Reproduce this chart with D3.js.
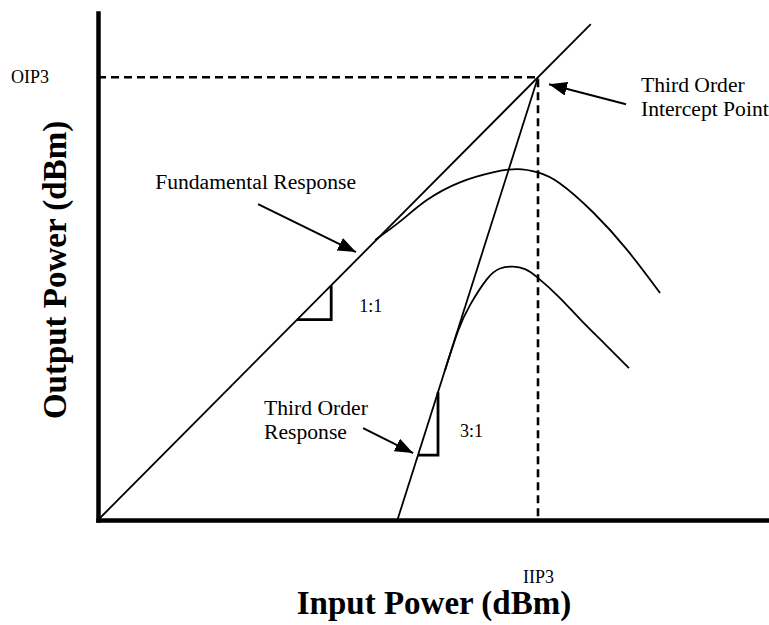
<!DOCTYPE html>
<html>
<head>
<meta charset="utf-8">
<script src="https://cdn.jsdelivr.net/npm/d3@7"></script>
<style>
  body { margin: 0; background: #fff; }
  svg { display: block; font-family: "Liberation Serif", "Times New Roman", serif; }
</style>
</head>
<body>
<svg id="chart"></svg>
<script>
let w = 769;
let h = 625;

// power levels in dBm (the scale is arbitrary)
const iip3 = 0;
const oip3 = 10;
const inputDomain = [-40, 21];
const outputDomain = [-30, 15.8];

// ideal (small signal) lines: [input, output]
const fundLine = [[-40, -30], [4.8, 14.8]];
const thirdLine = [[-12.78, -30], [0, 10]];

// real responses that compress and fall off
const fundCurveIn = [-14.8, -12.5, -10.1, -7.1, -4.1, -1.9, 0, 2, 5, 8.1, 11.1];
const fundCurveOut = [-4.7, -3.0, -1.1, 0.5, 1.4, 1.7, 1.4, 0.4, -2.2, -5.6, -9.5];
const thirdCurveIn = [-8.45, -7.27, -6.18, -4.64, -3.45, -2.27, -1.18, -0.09, 1.82, 3.82, 6.09, 8.27];
const thirdCurveOut = [-16.46, -12.93, -10.59, -8.24, -7.28, -7.11, -7.34, -8.06, -9.77, -11.85, -14.11, -16.28];

// slope triangles drawn on the ideal lines
const slopeLabels = ['1:1', '3:1'];
const slopeFrom = [-21.9, -10.91];
const slopeTo = [-18.8, -9.09];

// annotation text and arrows, in the same dBm units
const notes = [
  { lines: ['Fundamental Response'], at: [-34.8, -0.1], arrow: [[-25.45, -1.47], [-16.55, -5.8]] },
  { lines: ['Third Order', 'Intercept Point'], at: [9.36, 8.65], arrow: [[8.0, 7.56], [1.0, 9.37]] },
  { lines: ['Third Order', 'Response'], at: [-24.9, -20.5], arrow: [[-15.9, -21.7], [-11.36, -23.95]] }
];

function initGraph() {
  let svg = d3.select('#chart')
    .attr('width', w)
    .attr('height', h);

  let xScale = d3.scaleLinear().domain(inputDomain).range([98, 769]);
  let yScale = d3.scaleLinear().domain(outputDomain).range([520, 13]);

  // arrow head
  svg.append('defs').append('marker')
    .attr('id', 'head')
    .attr('markerUnits', 'userSpaceOnUse')
    .attr('viewBox', '0 0 18 14')
    .attr('refX', 18)
    .attr('refY', 7)
    .attr('markerWidth', 18)
    .attr('markerHeight', 14)
    .attr('orient', 'auto')
    .append('path')
    .attr('d', 'M0,0 L18,7 L0,14 Z')
    .attr('fill', '#000');

  let line = d3.line()
    .x(d => xScale(d[0]))
    .y(d => yScale(d[1]));

  let smooth = d3.line()
    .x(d => xScale(d[0]))
    .y(d => yScale(d[1]))
    .curve(d3.curveNatural);

  // dashed guides to the intercept point
  svg.append('path')
    .attr('d', line([[inputDomain[0], oip3], [iip3, oip3], [iip3, outputDomain[0]]]))
    .attr('fill', 'none')
    .attr('stroke', '#000')
    .attr('stroke-width', 2.6)
    .attr('stroke-dasharray', '8,5');

  // ideal lines
  svg.selectAll('path.ideal')
    .data([fundLine, thirdLine])
    .enter()
    .append('path')
    .attr('class', 'ideal')
    .attr('d', line)
    .attr('fill', 'none')
    .attr('stroke', '#000')
    .attr('stroke-width', 1.8);

  // compressed curves
  let fundCurve = fundCurveIn.map((x, i) => [x, fundCurveOut[i]]);
  let thirdCurve = thirdCurveIn.map((x, i) => [x, thirdCurveOut[i]]);
  svg.selectAll('path.curve')
    .data([fundCurve, thirdCurve])
    .enter()
    .append('path')
    .attr('class', 'curve')
    .attr('d', smooth)
    .attr('fill', 'none')
    .attr('stroke', '#000')
    .attr('stroke-width', 1.8);

  // slope triangles
  let ideal = [fundLine, thirdLine].map(l =>
    d3.scaleLinear().domain([l[0][0], l[1][0]]).range([l[0][1], l[1][1]]));
  let labelGap = [28, 22];
  slopeLabels.forEach((label, i) => {
    let f = ideal[i];
    let a = slopeFrom[i], b = slopeTo[i];
    svg.append('path')
      .attr('d', line([[a, f(a)], [b, f(a)], [b, f(b)]]))
      .attr('fill', 'none')
      .attr('stroke', '#000')
      .attr('stroke-width', 2.8);
    svg.append('text')
      .attr('x', xScale(b) + labelGap[i])
      .attr('y', (yScale(f(a)) + yScale(f(b))) / 2 + (i ? 13 : 10))
      .attr('font-size', 18)
      .text(label);
  });

  // annotations
  notes.forEach(n => {
    let t = svg.append('text')
      .attr('x', xScale(n.at[0]))
      .attr('y', yScale(n.at[1]))
      .attr('font-size', 21.6);
    n.lines.forEach((s, i) => {
      t.append('tspan')
        .attr('x', xScale(n.at[0]))
        .attr('dy', i ? 24 : 0)
        .text(s);
    });
    svg.append('path')
      .attr('d', line(n.arrow))
      .attr('stroke', '#000')
      .attr('stroke-width', 2)
      .attr('marker-end', 'url(#head)');
  });

  // axes, only the intercept values are labelled
  let xAxis = d3.axisBottom(xScale)
    .tickValues([iip3])
    .tickFormat(() => 'IIP3')
    .tickSize(0)
    .tickSizeOuter(0)
    .tickPadding(50);
  let yAxis = d3.axisLeft(yScale)
    .tickValues([oip3])
    .tickFormat(() => 'OIP3')
    .tickSize(0)
    .tickSizeOuter(0)
    .tickPadding(49);

  let xAxisGroup = svg.append('g')
    .attr('transform', `translate(0, ${yScale(outputDomain[0])})`)
    .call(xAxis);
  let yAxisGroup = svg.append('g')
    .attr('transform', `translate(${xScale(inputDomain[0])}, 0)`)
    .call(yAxis);

  [xAxisGroup, yAxisGroup].forEach(g => {
    g.attr('font-family', null);
    g.select('.domain')
      .attr('stroke', '#000')
      .attr('stroke-width', 4.5)
      .attr('stroke-linecap', 'square');
    g.selectAll('text')
      .attr('font-size', 18)
      .attr('fill', '#000');
  });

  // axis titles
  svg.append('text')
    .attr('x', 434)
    .attr('y', 614)
    .attr('text-anchor', 'middle')
    .attr('font-size', 33)
    .attr('font-weight', 'bold')
    .text('Input Power (dBm)');

  svg.append('text')
    .attr('transform', `translate(66, 270) rotate(-90)`)
    .attr('text-anchor', 'middle')
    .attr('font-size', 33)
    .attr('font-weight', 'bold')
    .text('Output Power (dBm)');
}

window.onload = initGraph;
</script>
</body>
</html>
